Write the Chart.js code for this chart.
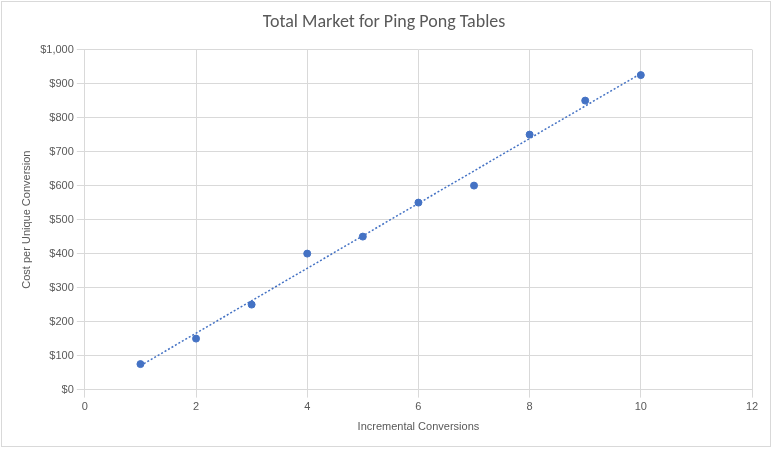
<!DOCTYPE html>
<html>
<head>
<meta charset="utf-8">
<script src="https://cdn.jsdelivr.net/npm/chart.js@4/dist/chart.umd.min.js"></script>
<style>
  html,body{margin:0;padding:0;background:#fff;}
  #wrap{position:absolute;left:1px;top:1px;width:770px;height:446px;border:1px solid #d9d9d9;box-sizing:border-box;}
</style>
</head>
<body>
<div id="wrap"><canvas id="c"></canvas></div>
<script>
const conversions = [1, 2, 3, 4, 5, 6, 7, 8, 9, 10];
const costs = [75, 150, 250, 400, 450, 550, 600, 750, 850, 925];

// linear trendline, least squares
const n = conversions.length;
const mx = conversions.reduce((a,b)=>a+b,0)/n;
const my = costs.reduce((a,b)=>a+b,0)/n;
let sxy = 0, sxx = 0;
for(let i=0;i<n;i++){ sxy += (conversions[i]-mx)*(costs[i]-my); sxx += (conversions[i]-mx)**2; }
const slope = sxy/sxx, icpt = my - slope*mx;
const xMin = conversions[0], xMax = conversions[n-1];
const trend = [{x:xMin, y:icpt+slope*xMin}, {x:xMax, y:icpt+slope*xMax}];

const points = conversions.map((x,i)=>({x, y: costs[i]}));
const txt = '#595959';
const grid = '#d9d9d9';

new Chart(document.getElementById('c'), {
  type: 'scatter',
  data: { datasets: [
    { data: points, backgroundColor: '#4472C4', borderColor: '#4472C4', pointRadius: 3.5, pointHoverRadius: 3.5 },
    { type: 'line', data: trend, borderColor: '#4472C4', borderWidth: 1.5, borderDash: [2,2], pointRadius: 0, fill: false }
  ]},
  options: {
    responsive: true, maintainAspectRatio: false, animation: false,
    layout: { padding: { left: 14, right: 18, top: 6, bottom: 8 } },
    plugins: {
      legend: { display: false }, tooltip: { enabled: false },
      title: { display: true, text: 'Total Market for Ping Pong Tables', color: txt,
        font: { family: 'Calibri, Carlito, "Open Sans", sans-serif', size: 18, weight: 'normal' }, padding: { top: 4, bottom: 16 } }
    },
    scales: {
      x: { type: 'linear', min: 0, max: 12,
        ticks: { stepSize: 2, color: txt, font: { size: 11 } },
        grid: { color: grid }, border: { color: grid },
        title: { display: true, text: 'Incremental Conversions', color: txt, font: { size: 11 } } },
      y: { min: 0, max: 1000,
        ticks: { stepSize: 100, color: txt, font: { size: 11 }, callback: v => '$' + v.toLocaleString('en-US') },
        grid: { color: grid }, border: { display: false },
        title: { display: true, text: 'Cost per Unique Conversion', color: txt, font: { size: 11 } } }
    }
  }
});
</script>
</body>
</html>
